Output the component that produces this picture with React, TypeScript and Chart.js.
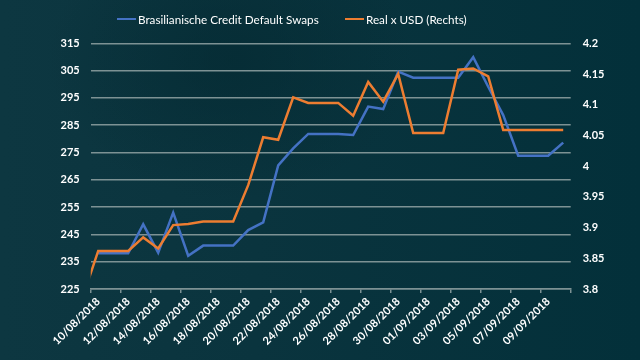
import React, { useEffect, useRef } from "react";
import { Chart, registerables } from "chart.js";

Chart.register(...registerables);

// 09/08/2018 .. 10/09/2018 (daily)
const dates: string[] = [
  "09/08/2018", "10/08/2018", "11/08/2018", "12/08/2018", "13/08/2018", "14/08/2018",
  "15/08/2018", "16/08/2018", "17/08/2018", "18/08/2018", "19/08/2018", "20/08/2018",
  "21/08/2018", "22/08/2018", "23/08/2018", "24/08/2018", "25/08/2018", "26/08/2018",
  "27/08/2018", "28/08/2018", "29/08/2018", "30/08/2018", "31/08/2018", "01/09/2018",
  "02/09/2018", "03/09/2018", "04/09/2018", "05/09/2018", "06/09/2018", "07/09/2018",
  "08/09/2018", "09/09/2018", "10/09/2018",
];

const cdsValues: (number | null)[] = [
  null, 238.1, 238.1, 238.1, 248.7, 238.3, 253.0, 237.2, 240.9, 240.9, 240.9,
  246.6, 249.4, 270.3, 276.5, 281.8, 281.8, 281.8, 281.4, 291.8, 290.9,
  304.6, 302.4, 302.4, 302.4, 302.4, 309.9, 299.1, 288.7, 273.8, 273.8, 273.8, 278.6,
];

const brlValues: number[] = [
  3.789, 3.862, 3.862, 3.862, 3.884, 3.866, 3.904, 3.906, 3.91, 3.91, 3.91,
  3.969, 4.047, 4.043, 4.112, 4.103, 4.103, 4.103, 4.082, 4.137, 4.105,
  4.150, 4.054, 4.054, 4.054, 4.157, 4.159, 4.146, 4.059, 4.059, 4.059, 4.059, 4.059,
];

const seriesNames: string[] = ["Brasilianische Credit Default Swaps", "Real x USD (Rechts)"];
const seriesColors: string[] = ["#4472C4", "#ED7D31"];

const leftTicks = { min: 225, max: 315, step: 10 };
const rightTicks = { min: 3.8, max: 4.2, step: 0.05 };
const xTickValues: number[] = [];
for (let v = 0.5; v <= 32.5; v += 2) xTickValues.push(v);

const FONT = "Lato, 'Open Sans', sans-serif";
const GRID = "#7d9294";

export default function App() {
  const ref = useRef<HTMLCanvasElement | null>(null);

  useEffect(() => {
    if (!ref.current) return;
    const chart = new Chart(ref.current, {
      type: "line",
      data: {
        datasets: [
          {
            label: seriesNames[0],
            data: cdsValues.map((v, i) => ({ x: i, y: v })) as any,
            borderColor: seriesColors[0],
            backgroundColor: seriesColors[0],
            borderWidth: 2.5,
            pointRadius: 0,
            tension: 0,
            yAxisID: "y",
            order: 1,
          },
          {
            label: seriesNames[1],
            data: brlValues.map((v, i) => ({ x: i, y: v })),
            borderColor: seriesColors[1],
            backgroundColor: seriesColors[1],
            borderWidth: 2.5,
            pointRadius: 0,
            tension: 0,
            yAxisID: "y1",
            order: 0,
          },
        ],
      },
      options: {
        animation: false,
        responsive: true,
        maintainAspectRatio: false,
        layout: { padding: { left: 0, right: 0, top: 43.3, bottom: 0 } },
        plugins: {
          tooltip: { enabled: false },
          legend: { display: false },
        },
        scales: {
          x: {
            type: "linear",
            min: 0.5,
            max: 32.5,
            afterBuildTicks: (axis: any) => {
              axis.ticks = xTickValues.map((v) => ({ value: v }));
            },
            afterFit: (s: any) => {
              s.height = 71;
            },
            grid: {
              drawOnChartArea: false,
              drawTicks: true,
              tickLength: 4,
              color: GRID,
              lineWidth: 1.5,
            },
            border: { display: true, color: GRID, width: 1.5 },
            ticks: {
              autoSkip: false,
              maxRotation: 45,
              minRotation: 45,
              labelOffset: 7.5,
              padding: 2,
              color: "#ffffff",
              font: { family: FONT, size: 11, weight: "bold" },
              callback: (v: any) => dates[Math.round(Number(v) + 0.5)] ?? "",
            },
          },
          y: {
            position: "left",
            min: leftTicks.min,
            max: leftTicks.max,
            afterFit: (s: any) => {
              s.width = 90.7;
            },
            grid: { color: GRID, lineWidth: 1.5, drawTicks: false },
            border: { display: false },
            ticks: {
              stepSize: leftTicks.step,
              padding: 11,
              color: "#ffffff",
              font: { family: FONT, size: 11, weight: "bold" },
            },
          },
          y1: {
            position: "right",
            min: rightTicks.min,
            max: rightTicks.max,
            afterFit: (s: any) => {
              s.width = 69.3;
            },
            grid: { display: false, drawTicks: false },
            border: { display: false },
            ticks: {
              stepSize: rightTicks.step,
              padding: 12,
              color: "#ffffff",
              font: { family: FONT, size: 11, weight: "bold" },
              callback: (v: any) => String(Number(Number(v).toFixed(2))),
            },
          },
        },
      },
    });
    return () => chart.destroy();
  }, []);

  const legendLefts = [117, 345];

  return (
    <div
      style={{
        position: "fixed",
        left: 0,
        top: 0,
        width: 640,
        height: 360,
        background:
          "radial-gradient(ellipse 260px 200px at 230px 60px, rgba(3,40,48,0.6), rgba(3,40,48,0) 70%), linear-gradient(90deg, #0d3741 0%, #0a343e 40%, #03303a 100%)",
      }}
    >
      <canvas ref={ref} />
      {seriesNames.map((name, i) => (
        <div
          key={name}
          style={{
            position: "absolute",
            left: legendLefts[i],
            top: 11,
            height: 16,
            display: "flex",
            alignItems: "center",
            fontFamily: FONT,
            fontSize: 11.7,
            color: "#ffffff",
            whiteSpace: "nowrap",
          }}
        >
          <span
            style={{
              display: "inline-block",
              width: 19,
              height: 2.5,
              background: seriesColors[i],
              marginRight: 2,
            }}
          />
          <span>{name}</span>
        </div>
      ))}
    </div>
  );
}
